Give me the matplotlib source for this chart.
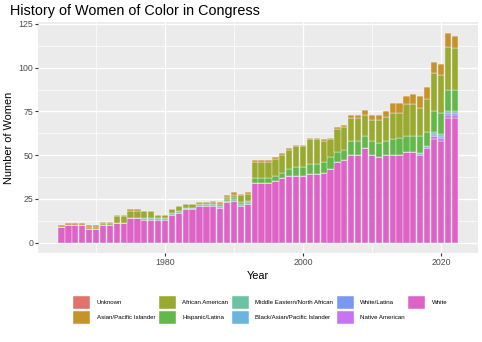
import matplotlib
matplotlib.use("Agg")
import matplotlib.pyplot as plt
from matplotlib.patches import Patch
from matplotlib.ticker import MultipleLocator

plt.rcParams["font.family"] = ["Liberation Sans", "DejaVu Sans"]

years = list(range(1965, 2023))

categories = [
    "Unknown", "Asian/Pacific Islander", "African American", "Hispanic/Latina",
    "Middle Eastern/North African", "Black/Asian/Pacific Islander",
    "White/Latina", "Native American", "White",
]

# counts per year, 1965 .. 2022
unknown = [0, 0, 0, 0, 0, 0, 0, 0, 0, 0,
           0, 0, 0, 0, 0, 0, 0, 0, 0, 0,
           0, 0, 0, 0, 0, 0, 0, 0, 0, 0,
           0, 0, 0, 0, 0, 0, 0, 0, 0, 0,
           0, 0, 0, 0, 0, 0, 0, 0, 0, 0,
           0, 0, 0, 0, 0, 0, 0, 0]
asian_pacific = [1, 1, 1, 1, 1, 1, 1, 1, 1, 1,
                 1, 1, 0, 0, 0, 0, 0, 0, 0, 0,
                 0, 0, 1, 1, 1, 2, 1, 1, 1, 1,
                 1, 1, 1, 1, 1, 1, 1, 1, 1, 1,
                 1, 1, 2, 2, 3, 3, 3, 3, 6, 6,
                 5, 6, 7, 7, 6, 6, 8, 7]
african_american = [0, 0, 0, 0, 1, 1, 1, 1, 4, 4,
                    4, 4, 4, 4, 2, 2, 2, 3, 2, 2,
                    1, 1, 1, 1, 1, 1, 4, 4, 9, 9,
                    9, 10, 10, 11, 12, 12, 14, 14, 12, 10,
                    13, 13, 13, 13, 12, 12, 13, 14, 15, 14,
                    18, 18, 16, 19, 22, 22, 25, 24]
hispanic_latina = [0, 0, 0, 0, 0, 0, 0, 0, 0, 0,
                   0, 0, 0, 0, 0, 0, 0, 0, 0, 0,
                   0, 0, 0, 0, 1, 1, 1, 1, 3, 3,
                   3, 3, 3, 4, 5, 5, 6, 6, 6, 7,
                   6, 6, 8, 8, 7, 8, 8, 8, 9, 10,
                   9, 9, 10, 8, 12, 12, 12, 12]
mena = [0, 0, 0, 0, 0, 0, 0, 0, 0, 0,
        0, 0, 1, 1, 1, 1, 1, 1, 1, 1,
        1, 1, 1, 1, 1, 1, 1, 1, 0, 0,
        0, 0, 0, 0, 0, 0, 0, 0, 0, 0,
        0, 0, 0, 0, 0, 0, 0, 0, 0, 0,
        0, 0, 0, 0, 1, 1, 1, 1]
black_asian_pacific = [0, 0, 0, 0, 0, 0, 0, 0, 0, 0,
                       0, 0, 0, 0, 0, 0, 0, 0, 0, 0,
                       0, 0, 0, 0, 0, 0, 0, 0, 0, 0,
                       0, 0, 0, 0, 0, 0, 0, 0, 0, 0,
                       0, 0, 0, 0, 0, 0, 0, 0, 0, 0,
                       0, 0, 1, 1, 1, 1, 0, 0]
white_latina = [0, 0, 0, 0, 0, 0, 0, 0, 0, 0,
                0, 0, 0, 0, 0, 0, 0, 0, 0, 0,
                0, 0, 0, 0, 0, 0, 0, 0, 0, 0,
                0, 0, 0, 0, 0, 0, 0, 0, 0, 0,
                0, 0, 0, 0, 0, 0, 0, 0, 0, 0,
                0, 0, 0, 0, 0, 0, 1, 1]
native_american = [0, 0, 0, 0, 0, 0, 0, 0, 0, 0,
                   0, 0, 0, 0, 0, 0, 0, 0, 0, 0,
                   0, 0, 0, 0, 0, 0, 0, 0, 0, 0,
                   0, 0, 0, 0, 0, 0, 0, 0, 0, 0,
                   0, 0, 0, 0, 0, 0, 0, 0, 0, 0,
                   0, 0, 0, 0, 2, 2, 2, 2]
white = [9, 10, 10, 10, 8, 8, 10, 10, 11, 11,
         14, 14, 13, 13, 13, 13, 16, 17, 19, 19,
         21, 21, 21, 20, 23, 24, 21, 22, 34, 34,
         34, 35, 37, 38, 38, 38, 39, 39, 40, 42,
         46, 47, 50, 50, 54, 50, 49, 50, 50, 50,
         52, 52, 50, 54, 59, 58, 71, 71]

series = [unknown, asian_pacific, african_american, hispanic_latina, mena,
          black_asian_pacific, white_latina, native_american, white]

# softened hue palette
palette = ["#E0736C", "#C8922A", "#9AAA2E", "#62B94A", "#6CC2A2",
           "#68B6E0", "#7898F2", "#C774F0", "#DD64C6"]

fig = plt.figure(figsize=(4.82, 3.42), dpi=100)
ax = fig.add_axes([38.4 / 482, 1 - 253.2 / 342, (477.9 - 38.4) / 482, (253.2 - 22.2) / 342])
ax.set_facecolor("#EBEBEB")

# stack from the last category (bottom) up to the first (top)
bottom = [0] * len(years)
for name, vals, col in reversed(list(zip(categories, series, palette))):
    ax.bar(years, vals, width=0.9, bottom=bottom, color=col,
           edgecolor="#F4F0F4", linewidth=0.3, zorder=3)
    bottom = [b + v for b, v in zip(bottom, vals)]

ax.set_xlim(1961.65, 2025.35)
ax.set_ylim(-6, 126)
ax.set_xticks([1980, 2000, 2020])
ax.set_yticks([0, 25, 50, 75, 100, 125])
ax.xaxis.set_minor_locator(MultipleLocator(10))
ax.yaxis.set_minor_locator(MultipleLocator(12.5))
ax.grid(which="major", color="white", linewidth=1.0, zorder=0)
ax.grid(which="minor", color="white", linewidth=0.5, zorder=0)
ax.set_axisbelow(True)
for s in ax.spines.values():
    s.set_visible(False)
ax.tick_params(which="major", length=2.0, width=0.8, color="#333333",
               labelsize=6.3, labelcolor="#4D4D4D", pad=1.6)
ax.tick_params(which="minor", length=0)

ax.set_xlabel("Year", fontsize=7.9, labelpad=2.5)
ax.set_ylabel("Number of Women", fontsize=7.9, labelpad=3.5)
fig.text(10 / 482, 1 - 11 / 342, "History of Women of Color in Congress",
         fontsize=10.4, ha="left", va="center")

handles = [Patch(facecolor=c, edgecolor="white", linewidth=0.3) for c in palette]
fig.legend(handles, categories, ncol=5, loc="upper left",
           bbox_to_anchor=(73.3 / 482, 1 - 296 / 342), frameon=False,
           fontsize=4.4, handlelength=2.8, handleheight=3.0,
           handletextpad=1.0, columnspacing=0.62, labelspacing=0.25,
           borderpad=0, borderaxespad=0)

fig.savefig("out.png", dpi=100)
